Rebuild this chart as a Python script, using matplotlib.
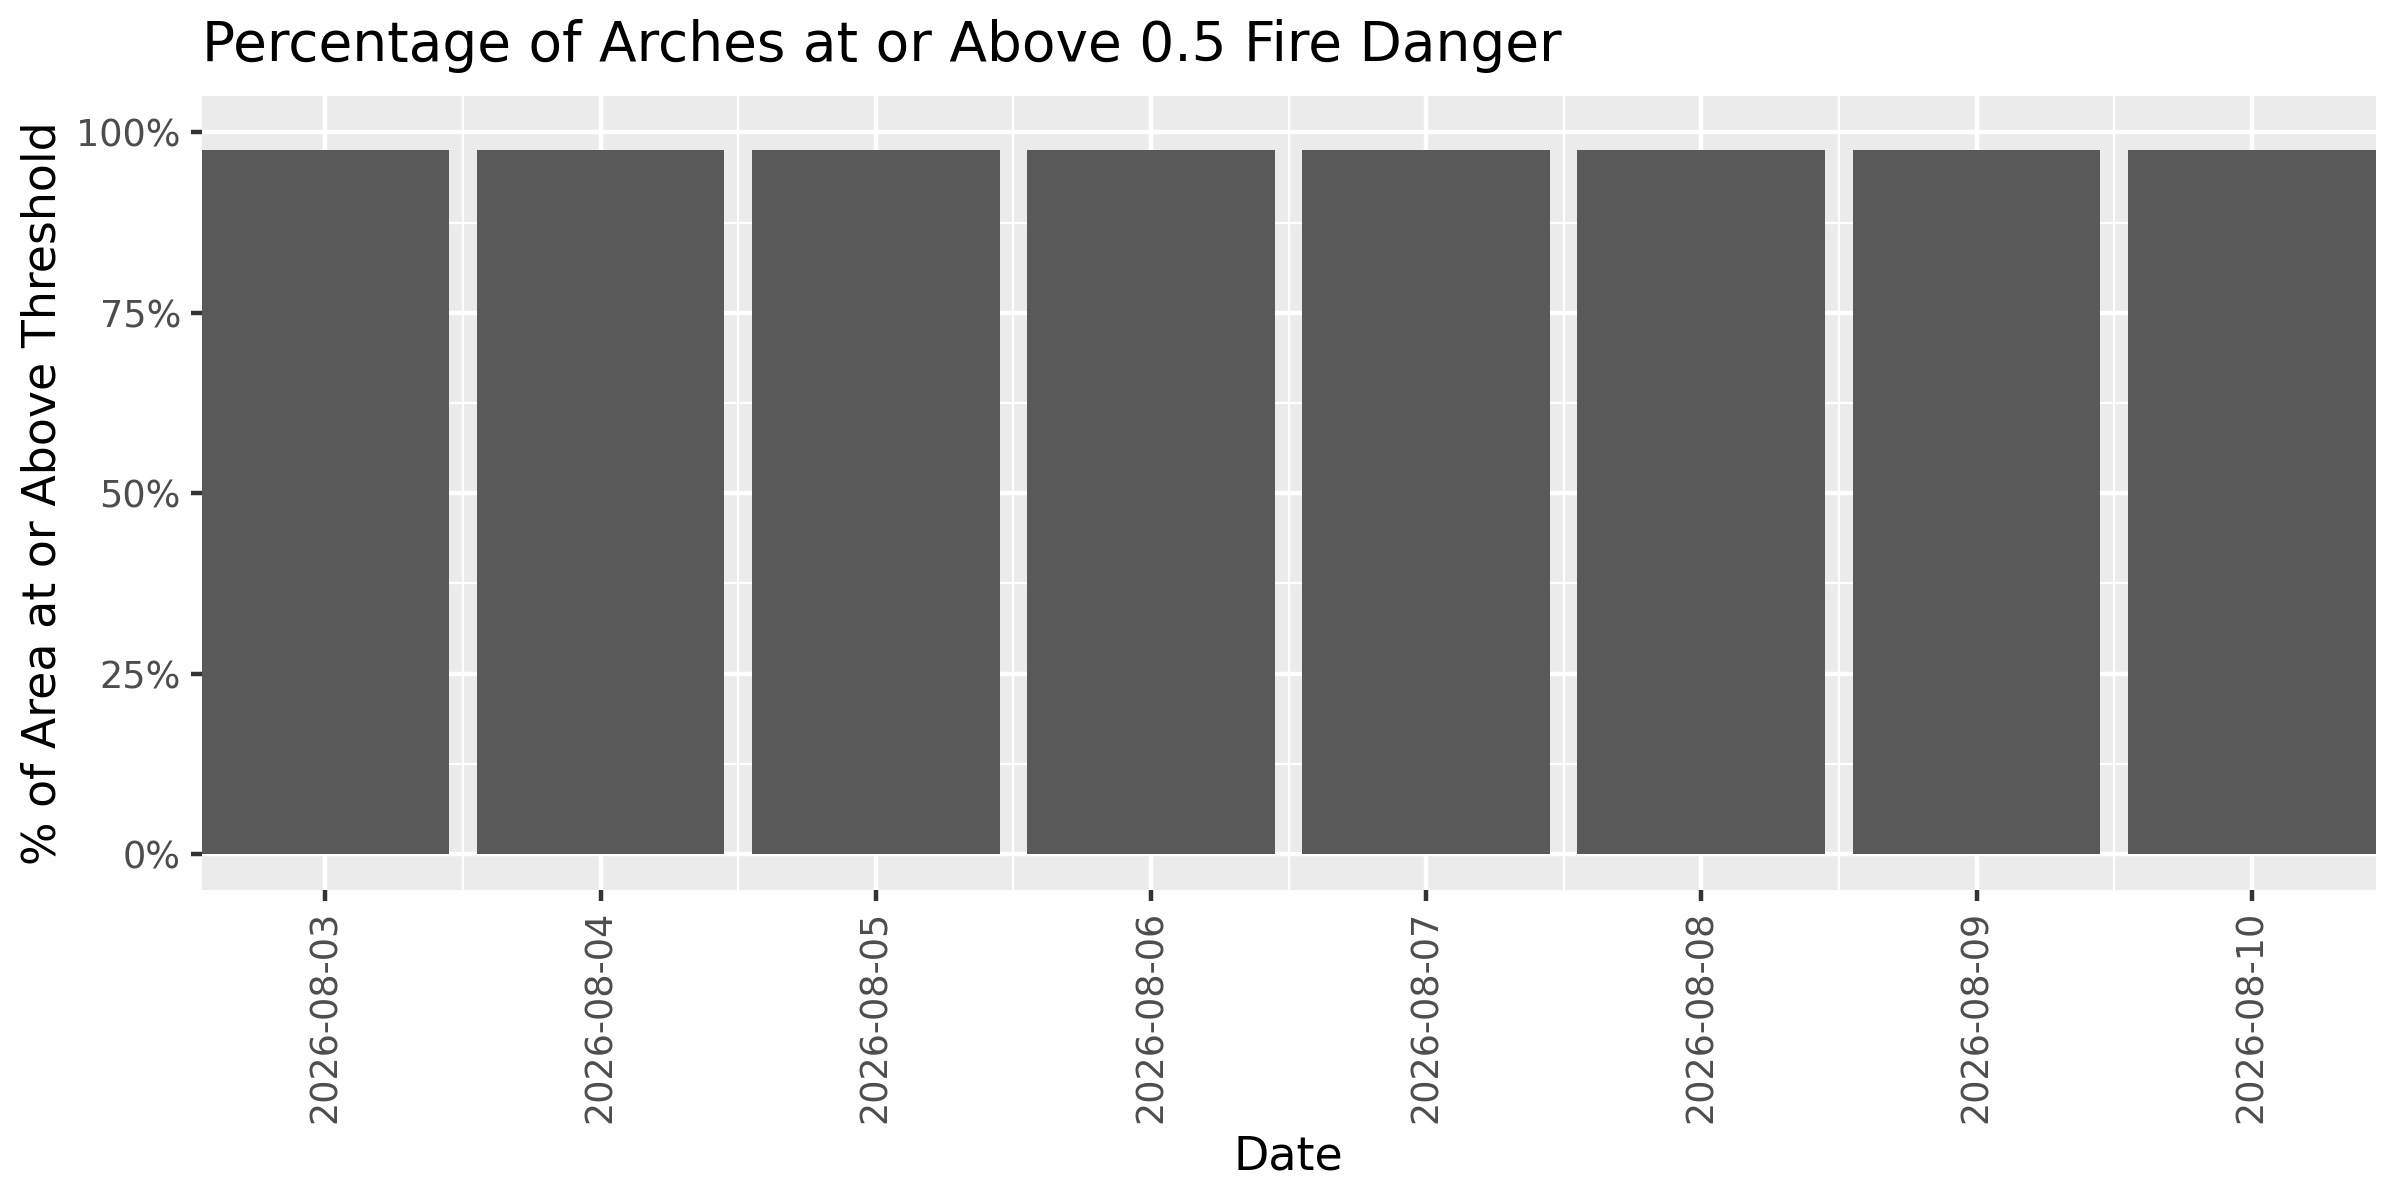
import numpy as np
import pandas as pd
import matplotlib
matplotlib.use("Agg")
from matplotlib import pyplot as plt
import matplotlib.dates as mdates
from matplotlib.ticker import FixedLocator, FuncFormatter

# data
dates = ["2026-08-03", "2026-08-04", "2026-08-05", "2026-08-06",
         "2026-08-07", "2026-08-08", "2026-08-09", "2026-08-10"]
pct_above = [97.5, 97.5, 97.5, 97.5, 97.5, 97.5, 97.5, 97.5]

title = "Percentage of Arches at or Above 0.5 Fire Danger"
xlab = "Date"
ylab = "% of Area at or Above Threshold"

plt.rcParams["font.family"] = ["DejaVu Sans"]

x = mdates.date2num(pd.to_datetime(dates))

fig = plt.figure(figsize=(8, 4), dpi=300)
ax = fig.add_axes([0.0840, 0.2583, 0.9898 - 0.0840, 0.9197 - 0.2583])

ax.set_facecolor("#EBEBEB")
for s in ax.spines.values():
    s.set_visible(False)

# grid: major + minor (white)
ax.set_xlim(x[0] - 0.45, x[-1] + 0.45)
ax.set_ylim(-5, 105)
ax.xaxis.set_major_locator(FixedLocator(x))
ax.xaxis.set_minor_locator(FixedLocator((x[:-1] + x[1:]) / 2))
ax.yaxis.set_major_locator(FixedLocator([0, 25, 50, 75, 100]))
ax.yaxis.set_minor_locator(FixedLocator([12.5, 37.5, 62.5, 87.5]))
ax.xaxis.set_major_formatter(FuncFormatter(lambda v, p: mdates.num2date(v).strftime("%Y-%m-%d")))
ax.yaxis.set_major_formatter(FuncFormatter(lambda v, p: f"{v:.0f}%"))

ax.grid(True, which="major", color="white", linewidth=1.07)
ax.grid(True, which="minor", color="white", linewidth=0.53)
ax.set_axisbelow(True)

ax.bar(x, pct_above, width=0.9, color="#595959", linewidth=0, zorder=2)

ax.tick_params(which="major", length=2.75, width=1.07, color="#333333",
               labelsize=8.8, labelcolor="#4D4D4D", pad=2.2)
ax.tick_params(which="minor", length=0)
plt.setp(ax.get_xticklabels(), rotation=90, va="top", ha="center")

ax.set_xlabel(xlab, fontsize=11, color="black", labelpad=2.75)
ax.set_ylabel(ylab, fontsize=11, color="black", labelpad=2.75)

fig.text(0.0840, 1 - 46 / 1200, title, fontsize=13.2, color="black",
         ha="left", va="center")

fig.savefig("out.png", dpi=300, facecolor="white")
plt.close()
